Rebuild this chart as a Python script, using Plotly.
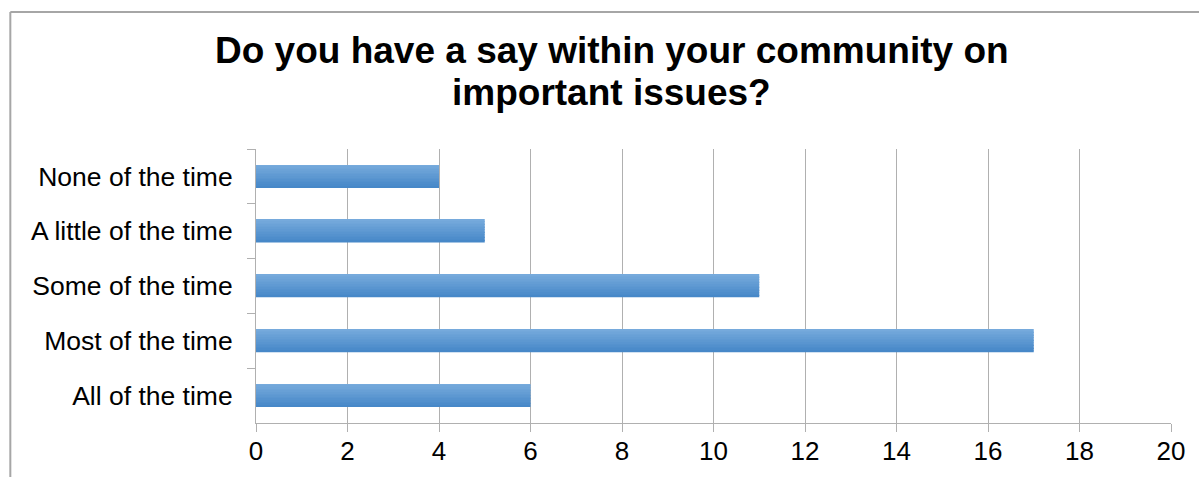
import plotly.graph_objects as go

# Survey responses
categories = ["None of the time", "A little of the time", "Some of the time",
              "Most of the time", "All of the time"]
counts = [4, 5, 11, 17, 6]
x_ticks = [0, 2, 4, 6, 8, 10, 12, 14, 16, 18, 20]

title_lines = ["Do you have a say within your community on", "important issues?"]

FONT = "Liberation Sans, Arial, sans-serif"
GRID = "#B0B0B0"

# Vertical gradient on the bars, built from thin overlaid slices
top_rgb = (0x76, 0xAA, 0xDC)
bot_rgb = (0x47, 0x88, 0xC8)
bar_frac = 0.41
n_slices = 14

fig = go.Figure()
for i in range(n_slices):
    t = i / (n_slices - 1)
    r, g, b = (round(top_rgb[k] + (bot_rgb[k] - top_rgb[k]) * t) for k in range(3))
    w = bar_frac / n_slices
    # reversed y axis: negative offset is toward the top
    off = -bar_frac / 2 + i * w
    fig.add_trace(go.Bar(
        x=counts, y=categories, orientation="h",
        width=w * 1.08, offset=off,
        marker=dict(color=f"rgb({r},{g},{b})", line=dict(width=0)),
        showlegend=False, hoverinfo="x+y",
    ))

# Two-line title with tighter leading than the default title
title_annots = [
    dict(text=f"<b>{line}</b>", xref="paper", yref="paper",
         x=0.389, y=yy, xanchor="center", yanchor="middle", showarrow=False,
         font=dict(family=FONT, size=37, color="black"))
    for line, yy in zip(title_lines, [1.358, 1.205])
]

fig.update_layout(
    width=1199, height=477,
    margin=dict(l=256, r=28, t=149, b=54),
    paper_bgcolor="white", plot_bgcolor="white",
    barmode="overlay",
    font=dict(family=FONT, size=26, color="black"),
    annotations=title_annots,
    xaxis=dict(range=[0, 20], tickvals=x_ticks, showgrid=True, gridcolor=GRID,
               gridwidth=1, showline=True, linecolor=GRID, linewidth=1,
               ticks="outside", ticklen=8, tickcolor=GRID, zeroline=False,
               tickfont=dict(size=26), ticklabelstandoff=-3, automargin=False),
    yaxis=dict(categoryorder="array", categoryarray=categories,
               autorange="reversed", showline=True, linecolor=GRID, linewidth=1,
               ticks="outside", tickson="boundaries", ticklen=8, tickcolor=GRID,
               showgrid=False, tickfont=dict(size=26.5), ticklabelstandoff=17,
               automargin=False),
    shapes=[
        dict(type="line", xref="paper", yref="paper",
             x0=-0.2685, x1=1.1, y0=1.5, y1=1.5,
             line=dict(color="#A6A6A6", width=2)),
        dict(type="line", xref="paper", yref="paper",
             x0=-0.2685, x1=-0.2685, y0=1.5, y1=-0.3,
             line=dict(color="#A6A6A6", width=2)),
    ],
)

fig.write_html("out.html")
